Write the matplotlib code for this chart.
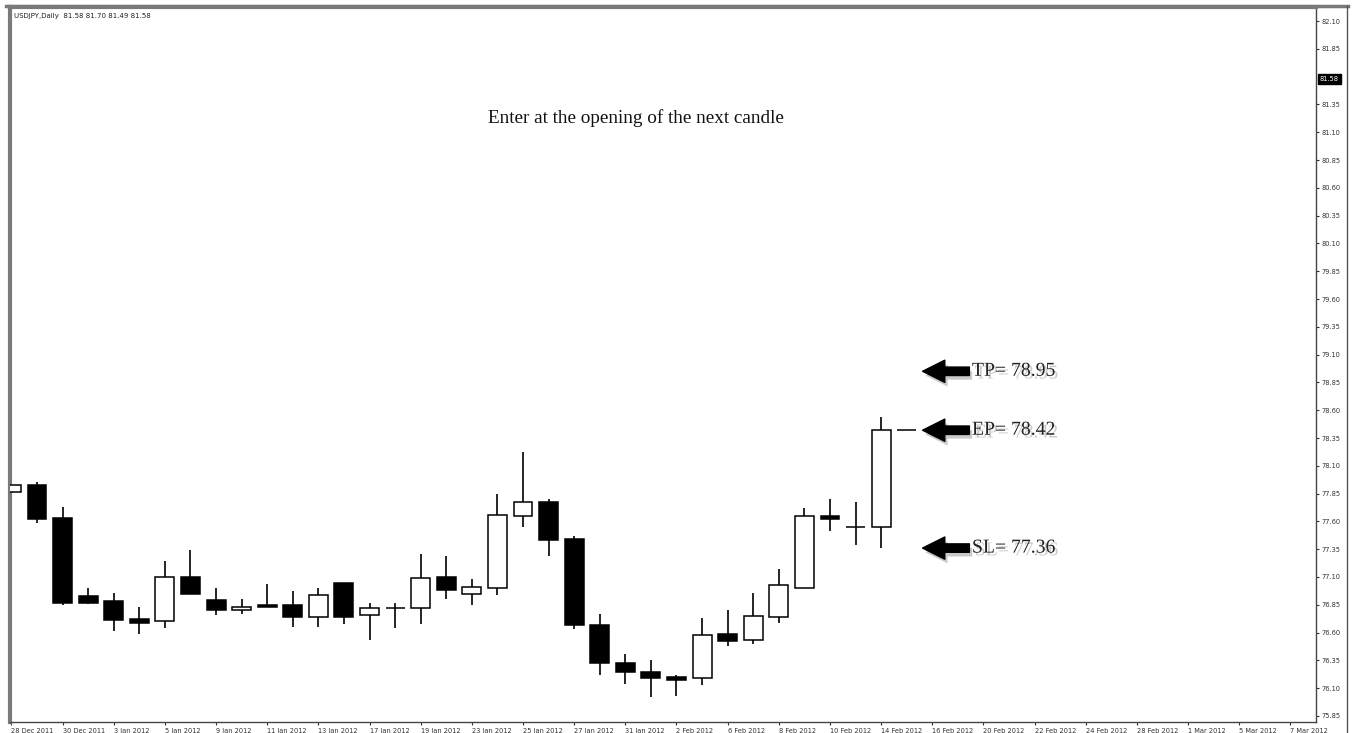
import numpy as np
import pandas as pd
import matplotlib
matplotlib.use("Agg")
import matplotlib.pyplot as plt
import matplotlib.patheffects as pe
from matplotlib.lines import Line2D

# USDJPY daily bars, 28 Dec 2011 .. 15 Feb 2012
opens = [77.86, 77.93, 77.63, 76.93, 76.88, 76.72, 76.70, 77.10, 76.89, 76.80,
         76.85, 76.85, 76.74, 77.05, 76.76, 76.82, 76.82, 77.10, 76.95, 77.00,
         77.65, 77.77, 77.44, 76.67, 76.33, 76.25, 76.20, 76.19, 76.59, 76.53,
         76.74, 77.00, 77.65, 77.55, 77.55, 78.42]
highs = [78.00, 77.95, 77.73, 77.00, 76.96, 76.83, 77.24, 77.34, 77.00, 76.90,
         77.04, 76.97, 77.00, 77.05, 76.87, 76.87, 77.31, 77.29, 77.08, 77.85,
         78.22, 77.80, 77.47, 76.77, 76.41, 76.35, 76.22, 76.73, 76.80, 76.96,
         77.17, 77.72, 77.80, 77.77, 78.54, 78.42]
lows = [77.60, 77.59, 76.85, 76.86, 76.61, 76.59, 76.64, 76.95, 76.76, 76.77,
        76.83, 76.65, 76.65, 76.68, 76.53, 76.64, 76.68, 76.90, 76.85, 76.94,
        77.55, 77.29, 76.63, 76.22, 76.14, 76.02, 76.03, 76.13, 76.48, 76.50,
        76.69, 77.00, 77.51, 77.39, 77.36, 78.42]
closes = [77.93, 77.62, 76.87, 76.87, 76.71, 76.69, 77.10, 76.95, 76.80, 76.83,
          76.83, 76.74, 76.94, 76.74, 76.82, 76.82, 77.09, 76.98, 77.01, 77.66,
          77.77, 77.43, 76.67, 76.33, 76.25, 76.19, 76.17, 76.58, 76.52, 76.75,
          77.03, 77.65, 77.62, 77.55, 78.42, 78.42]

# trading days shown on the time axis
days = pd.bdate_range("2011-12-28", "2012-03-07")
day_labels = [f"{d.day} {d:%b %Y}" for d in days]

levels = {"TP": 78.95, "EP": 78.42, "SL": 77.36}
last_price = 81.58
header = "USDJPY,Daily  81.58 81.70 81.49 81.58"
price_ticks = np.round(np.arange(75.85, 82.11, 0.25), 2)

W, H = 1354, 733
fig = plt.figure(figsize=(W / 100, H / 100), dpi=100)
ax = fig.add_axes([10 / W, 1 - 722 / H, (1316 - 10) / W, (722 - 7) / H])
ax.set_xlim(-0.055, 51.0)
ax.set_ylim(75.796, 82.226)

x = np.arange(len(opens))
o = np.array(opens)
c = np.array(closes)
ax.vlines(x, lows, highs, color="black", lw=1.2, zorder=2)
body_col = ["white" if ci > oi else "black" for oi, ci in zip(o, c)]
ax.bar(x, np.abs(c - o), bottom=np.minimum(o, c), width=0.74,
       color=body_col, edgecolor="black", linewidth=1.1, zorder=3)

# price axis on the right
ax.yaxis.tick_right()
ticks = [t for t in price_ticks if abs(t - 81.60) > 1e-6]
ax.set_yticks(ticks)
ax.set_yticklabels([f"{t:.2f}" for t in ticks], fontsize=4.8, color="#333")
ax.tick_params(axis="y", length=2.5, width=0.8, pad=1.5, colors="#333")
ax.text(1.003, (last_price - 75.796) / (82.226 - 75.796), f"{last_price:.2f}",
        transform=ax.transAxes, fontsize=4.8, color="white", va="center", ha="left",
        bbox=dict(boxstyle="square,pad=0.25", fc="black", ec="black"))

# time axis
tick_idx = list(range(0, len(days), 2))
ax.set_xticks(tick_idx)
ax.set_xticklabels([day_labels[i] for i in tick_idx], fontsize=4.8, color="#333", ha="left")
ax.tick_params(axis="x", length=2.5, width=0.8, pad=1.5, colors="#333")

for side in ["left", "top"]:
    ax.spines[side].set_color("#7a7a7a")
    ax.spines[side].set_linewidth(3)
for side in ["right", "bottom"]:
    ax.spines[side].set_color("#444")
    ax.spines[side].set_linewidth(1)

# outer window frame
fig.add_artist(Line2D([6 / W, 1348 / W], [1 - 6 / H, 1 - 6 / H], color="#7a7a7a", lw=2.5))
fig.add_artist(Line2D([1347 / W, 1347 / W], [0, 1 - 6 / H], color="#555", lw=1))

fig.text(14 / W, 1 - 16 / H, header, fontsize=5.0, color="#222", va="center")
fig.text(636 / W, 1 - 118 / H, "Enter at the opening of the next candle",
         fontsize=13.8, family="Liberation Serif", color="#111", ha="center", va="center")

shadow = [pe.withSimplePatchShadow(offset=(2, -3), shadow_rgbFace="#888", alpha=0.45)]
for name, val in levels.items():
    ax.annotate("", xy=(35.62, val), xytext=(37.45, val),
                arrowprops=dict(arrowstyle="simple,head_length=1.0,head_width=1.0,tail_width=0.38",
                                color="black", shrinkA=0, shrinkB=0, mutation_scale=16,
                                path_effects=shadow), zorder=5)
    ax.text(37.55, val, f"{name}= {val:.2f}", fontsize=14.2, family="Liberation Serif",
            color="#222", va="center", ha="left", zorder=5,
            path_effects=[pe.withSimplePatchShadow(offset=(2, -2), shadow_rgbFace="#999", alpha=0.5)])

fig.savefig("out.png", dpi=100, facecolor="white")
